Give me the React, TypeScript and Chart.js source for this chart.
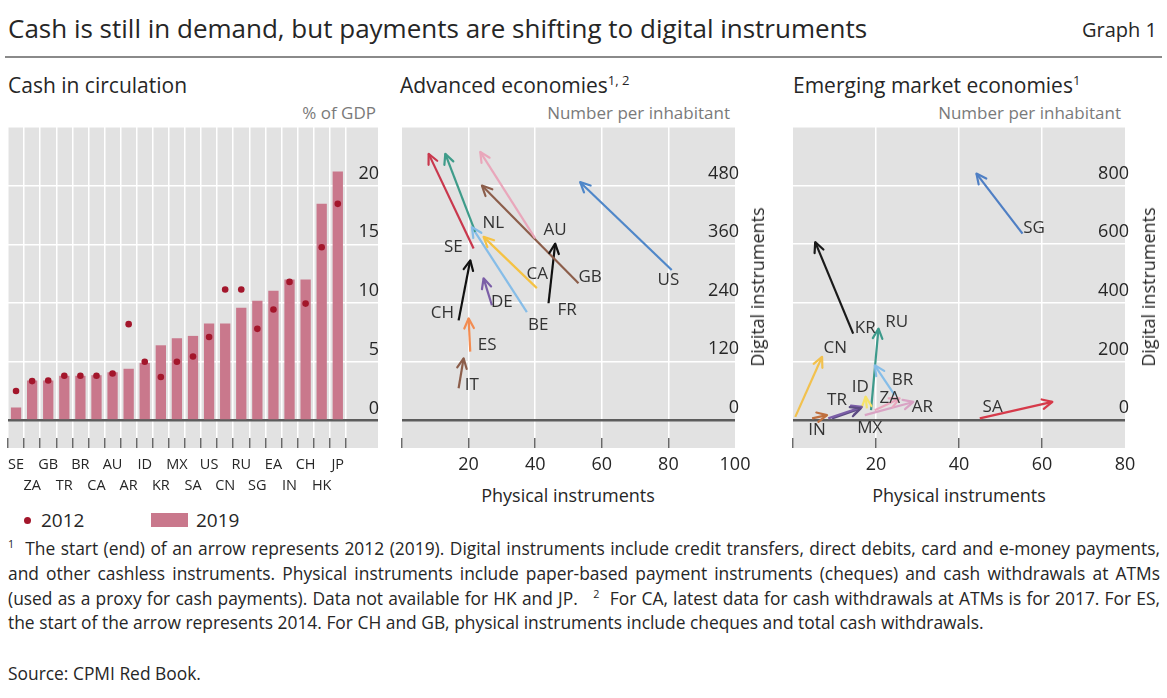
import React, { useEffect, useRef } from 'react';
import { Chart, registerables } from 'chart.js';

Chart.register(...registerables);

const FONT = '"Open Sans", "Noto Sans", sans-serif';
const GRAY_BG = '#e2e2e2';
const AXIS_DARK = '#5c5c5c';
const TEXT = '#262626';

// ---------- Panel 1: Cash in circulation (% of GDP)
const cashCountries = ['SE', 'ZA', 'GB', 'TR', 'BR', 'CA', 'AU', 'AR', 'ID', 'KR', 'MX', 'SA', 'US', 'CN', 'RU', 'SG', 'EA', 'IN', 'CH', 'HK', 'JP'];
const cashPadding = ['', ''];
const cash2019 = [1.1, 3.4, 3.4, 3.8, 3.8, 3.85, 4.1, 4.4, 4.9, 6.4, 7.0, 7.2, 8.25, 8.25, 9.6, 10.2, 11.05, 12.0, 12.0, 18.45, 21.2];
const cash2012 = [2.5, 3.35, 3.4, 3.8, 3.8, 3.8, 4.0, 8.2, 5.0, 3.7, 5.0, 5.45, 7.1, 11.15, 11.15, 7.8, 9.45, 11.8, 9.95, 14.75, 18.45];
const cashYTicks = [0, 5, 10, 15, 20, 25];
const cashYRange = [-1.5, 25];

// ---------- Panel 2: Advanced economies (number per inhabitant)
const aeCountries = ['SE', 'NL', 'AU', 'GB', 'US', 'CA', 'BE', 'DE', 'FR', 'CH', 'ES', 'IT'];
const aePhys2012 = [21.5, 22, 40, 53, 81, 40.5, 37.5, 27, 44, 17, 20.5, 17];
const aeDig2012 = [351, 385, 372, 280, 307, 270, 221, 235, 239, 204, 140, 65];
const aePhys2019 = [8, 13, 23.5, 24, 53.5, 24.5, 21, 24.5, 46, 20.5, 20, 18.5];
const aeDig2019 = [545, 545, 549, 480, 487, 375, 395, 290, 361, 327, 208, 126];
const aeLabelX = [15.4, 27.4, 46, 56.5, 80, 40.6, 40.9, 30, 49.6, 12.1, 25.6, 21];
const aeLabelY = [354, 403, 389, 292, 286, 299, 194, 241, 225, 218, 153, 72];
const aeColors = ['#c9384d', '#3f9c8a', '#e9a7bb', '#8c5e4b', '#4f87c9', '#f5c243', '#86bde8', '#7b5ea7', '#111111', '#111111', '#f28c52', '#8c5e4b'];
const aeXTicks = [0, 20, 40, 60, 80, 100];
const aeYTicks = [0, 120, 240, 360, 480, 600];
const aeYRange = [-37, 600];

// ---------- Panel 3: Emerging market economies (number per inhabitant)
const emCountries = ['SG', 'KR', 'RU', 'CN', 'BR', 'ID', 'ZA', 'AR', 'TR', 'IN', 'MX', 'SA'];
const emPhys2012 = [55.3, 14.5, 18.8, 0.55, 24.5, 17.8, 19.7, 17.3, 8.5, 4.6, 9.4, 45];
const emDig2012 = [636, 295, 34, 11, 85, 40, 34, 17, 6, 6, 6, 6];
const emPhys2019 = [44.2, 5.35, 20.6, 7, 19.7, 17.5, 25.7, 29, 16.6, 8.2, 16.3, 62.5];
const emDig2019 = [841, 607, 312, 216, 187, 80, 74, 62, 45, 17, 40, 62];
const emLabelX = [58.1, 17.4, 25.0, 10.2, 26.4, 16.2, 23.3, 31.2, 10.6, 5.8, 18.5, 48.1];
const emLabelY = [654, 313, 334, 245, 136, 112, 75, 44, 68, -34, -27, 44];
const emColors = ['#4f7fc4', '#1a1a1a', '#3d9a8b', '#f2c14e', '#86bde8', '#f7e36a', '#eaa7bd', '#d9a3c4', '#7b5ea7', '#c0703f', '#5b4b82', '#d63a4a'];
const emXTicks = [0, 20, 40, 60, 80];
const emYTicks = [0, 200, 400, 600, 800, 1000];
const emYRange = [-61, 1000];

const bgPlugin = {
  id: 'panelBackground',
  beforeDraw(chart: any) {
    const { ctx, chartArea: a } = chart;
    ctx.save();
    ctx.fillStyle = GRAY_BG;
    ctx.fillRect(a.left, a.top, a.right - a.left, a.bottom - a.top + 10);
    ctx.restore();
  },
};

function arrowPlugin(labels: string[], lx: number[], ly: number[]) {
  return {
    id: 'arrowHeads',
    afterDatasetsDraw(chart: any) {
      const { ctx } = chart;
      chart.data.datasets.forEach((ds: any, i: number) => {
        const meta = chart.getDatasetMeta(i);
        if (!meta || meta.data.length < 2) return;
        const p0 = meta.data[0];
        const p1 = meta.data[meta.data.length - 1];
        const ang = Math.atan2(p1.y - p0.y, p1.x - p0.x);
        const L = 11;
        const s = 0.45;
        ctx.save();
        ctx.strokeStyle = ds.borderColor;
        ctx.lineWidth = 2.2;
        ctx.lineCap = 'round';
        ctx.lineJoin = 'round';
        ctx.beginPath();
        ctx.moveTo(p1.x - L * Math.cos(ang - s), p1.y - L * Math.sin(ang - s));
        ctx.lineTo(p1.x, p1.y);
        ctx.lineTo(p1.x - L * Math.cos(ang + s), p1.y - L * Math.sin(ang + s));
        ctx.stroke();
        ctx.restore();
      });
      const xs = chart.scales.x;
      const ys = chart.scales.y;
      ctx.save();
      ctx.font = `17px ${FONT}`;
      ctx.fillStyle = '#333';
      ctx.textAlign = 'center';
      ctx.textBaseline = 'middle';
      labels.forEach((t, i) => {
        ctx.fillText(t, xs.getPixelForValue(lx[i]), ys.getPixelForValue(ly[i]));
      });
      ctx.restore();
    },
  };
}

const noPadX = (h: number) => (ax: any) => {
  ax.height = h;
  ax.paddingLeft = 0;
  ax.paddingRight = 0;
};
const noPadY = (ax: any) => {
  ax.width = 0;
  ax.paddingTop = 0;
  ax.paddingBottom = 0;
};

function makeCash(canvas: HTMLCanvasElement) {
  const labels = [...cashCountries, ...cashPadding];
  const nReal = cashCountries.length;
  return new Chart(canvas, {
    type: 'bar',
    data: {
      labels: labels.map((c, i) => (i % 2 === 0 ? [c, ''] : ['', c])),
      datasets: [
        {
          type: 'line',
          label: '2012',
          data: cash2012,
          showLine: false,
          pointRadius: 3.3,
          pointBackgroundColor: '#a3162b',
          pointBorderWidth: 0,
          order: 0,
        } as any,
        {
          type: 'bar',
          label: '2019',
          data: cash2019,
          backgroundColor: '#c9788c',
          barPercentage: 0.64,
          categoryPercentage: 1,
          order: 1,
        },
      ],
    },
    options: {
      animation: false,
      responsive: false,
      events: [],
      layout: { padding: { left: 8, right: 12, top: 7, bottom: 0 } },
      plugins: { legend: { display: false }, tooltip: { enabled: false } },
      scales: {
        x: {
          type: 'category',
          offset: true,
          afterFit: noPadX(62),
          grid: {
            offset: true,
            color: (c: any) => (c.index !== undefined && c.index <= nReal ? '#ffffff' : 'rgba(0,0,0,0)'),
            tickColor: (c: any) => (c.index !== undefined && c.index <= nReal ? AXIS_DARK : 'rgba(0,0,0,0)'),
            lineWidth: 1.5,
            tickLength: 10,
            tickWidth: 1.3,
          },
          border: { display: false },
          ticks: {
            autoSkip: false,
            maxRotation: 0,
            padding: 7,
            color: TEXT,
            font: { size: 14.5, lineHeight: 1.4 },
          },
        },
        y: {
          type: 'linear',
          position: 'right',
          min: cashYRange[0],
          max: cashYRange[1],
          afterBuildTicks: (ax: any) => {
            ax.ticks = cashYTicks.map((v) => ({ value: v }));
          },
          afterFit: noPadY,
          grid: {
            drawTicks: false,
            color: (c: any) => (c.tick && c.tick.value === 0 ? AXIS_DARK : '#ffffff'),
            lineWidth: (c: any) => (c.tick && c.tick.value === 0 ? 2.5 : 1.5),
          },
          border: { display: false },
          ticks: {
            mirror: true,
            padding: 1,
            labelOffset: -12,
            color: TEXT,
            font: { size: 18 },
            callback: (v: any) => (v === cashYRange[1] ? '' : String(v)),
          },
        },
      },
    },
    plugins: [bgPlugin],
  });
}

function makeArrows(
  canvas: HTMLCanvasElement,
  countries: string[],
  p12: number[],
  d12: number[],
  p19: number[],
  d19: number[],
  colors: string[],
  lx: number[],
  ly: number[],
  xTicks: number[],
  yTicks: number[],
  yRange: number[],
  padLeft: number,
) {
  const xMax = xTicks[xTicks.length - 1];
  return new Chart(canvas, {
    type: 'scatter',
    data: {
      datasets: countries.map((c, i) => ({
        label: c,
        data: [
          { x: p12[i], y: d12[i] },
          { x: p19[i], y: d19[i] },
        ],
        showLine: true,
        borderColor: colors[i],
        backgroundColor: colors[i],
        borderWidth: 2.2,
        pointRadius: 0,
        pointHoverRadius: 0,
      })),
    },
    options: {
      animation: false,
      responsive: false,
      events: [],
      layout: { padding: { left: padLeft, right: 15, top: 7, bottom: 0 } },
      plugins: { legend: { display: false }, tooltip: { enabled: false } },
      scales: {
        x: {
          type: 'linear',
          min: xTicks[0],
          max: xMax,
          afterBuildTicks: (ax: any) => {
            ax.ticks = xTicks.map((v) => ({ value: v }));
          },
          afterFit: noPadX(40),
          grid: {
            color: (c: any) => (c.tick && (c.tick.value === 0 || c.tick.value === xMax) ? 'rgba(0,0,0,0)' : '#ffffff'),
            tickColor: (c: any) => (c.tick && c.tick.value === xMax ? 'rgba(0,0,0,0)' : AXIS_DARK),
            lineWidth: 1.5,
            tickLength: 10,
            tickWidth: 1.3,
          },
          border: { display: false },
          ticks: {
            autoSkip: false,
            maxRotation: 0,
            padding: 6,
            color: TEXT,
            font: { size: 18 },
            callback: (v: any) => (v === 0 ? '' : String(v)),
          },
        },
        y: {
          type: 'linear',
          position: 'right',
          min: yRange[0],
          max: yRange[1],
          afterBuildTicks: (ax: any) => {
            ax.ticks = yTicks.map((v) => ({ value: v }));
          },
          afterFit: noPadY,
          grid: {
            drawTicks: false,
            color: (c: any) => (c.tick && c.tick.value === 0 ? AXIS_DARK : '#ffffff'),
            lineWidth: (c: any) => (c.tick && c.tick.value === 0 ? 2.5 : 1.5),
          },
          border: { display: false },
          ticks: {
            mirror: true,
            padding: 4,
            labelOffset: -12,
            color: TEXT,
            font: { size: 18 },
            callback: (v: any) => (v === yRange[1] ? '' : String(v)),
          },
        },
      },
    },
    plugins: [bgPlugin, arrowPlugin(countries, lx, ly)],
  });
}

const abs = (left: number, top: number, extra: React.CSSProperties = {}): React.CSSProperties => ({
  position: 'absolute',
  left,
  top,
  whiteSpace: 'nowrap',
  ...extra,
});

export default function App() {
  const c1 = useRef<HTMLCanvasElement>(null);
  const c2 = useRef<HTMLCanvasElement>(null);
  const c3 = useRef<HTMLCanvasElement>(null);

  useEffect(() => {
    Chart.defaults.font.family = FONT;
    const charts = [
      makeCash(c1.current!),
      makeArrows(c2.current!, aeCountries, aePhys2012, aeDig2012, aePhys2019, aeDig2019, aeColors, aeLabelX, aeLabelY, aeXTicks, aeYTicks, aeYRange, 12),
      makeArrows(c3.current!, emCountries, emPhys2012, emDig2012, emPhys2019, emDig2019, emColors, emLabelX, emLabelY, emXTicks, emYTicks, emYRange, 13),
    ];
    return () => charts.forEach((ch) => ch.destroy());
  }, []);

  const footLine: React.CSSProperties = {
    position: 'absolute',
    left: 8,
    fontSize: 17.4,
    lineHeight: '24px',
    whiteSpace: 'nowrap',
  };
  const justified: React.CSSProperties = {
    ...footLine,
    width: 1152,
    whiteSpace: 'normal',
    height: 24,
    overflow: 'hidden',
    textAlign: 'justify',
    textAlignLast: 'justify' as any,
  };
  const sup: React.CSSProperties = { fontSize: '0.62em', verticalAlign: 'super', lineHeight: 0 };
  const unit: React.CSSProperties = { fontSize: 17, lineHeight: '22px', width: 320, textAlign: 'right', color: '#7a7a7a' };

  return (
    <div
      style={{
        position: 'absolute',
        left: 0,
        top: 0,
        width: 1167,
        height: 698,
        background: '#ffffff',
        fontFamily: FONT,
        color: TEXT,
        overflow: 'hidden',
      }}
    >
      <div style={abs(8, 12, { fontSize: 26, lineHeight: '32px' })}>
        Cash is still in demand, but payments are shifting to digital instruments
      </div>
      <div style={abs(1037, 16, { fontSize: 20, lineHeight: '28px', width: 120, textAlign: 'right' })}>Graph 1</div>
      <div style={{ position: 'absolute', left: 5, top: 56, width: 1157, height: 2, background: '#8a8a8a' }} />

      <div style={abs(8, 70, { fontSize: 21, lineHeight: '30px' })}>Cash in circulation</div>
      <div style={abs(400, 70, { fontSize: 21, lineHeight: '30px' })}>
        Advanced economies<span style={sup}>1, 2</span>
      </div>
      <div style={abs(793, 70, { fontSize: 21, lineHeight: '30px' })}>
        Emerging market economies<span style={sup}>1</span>
      </div>

      <div style={abs(56, 102, unit)}>% of GDP</div>
      <div style={abs(410, 102, unit)}>Number per inhabitant</div>
      <div style={abs(801, 102, unit)}>Number per inhabitant</div>

      <canvas ref={c1} width={390} height={380} style={{ position: 'absolute', left: 0, top: 120 }} />
      <canvas ref={c2} width={360} height={358} style={{ position: 'absolute', left: 390, top: 120 }} />
      <canvas ref={c3} width={360} height={358} style={{ position: 'absolute', left: 780, top: 120 }} />

      <div
        style={abs(757, 287, {
          fontSize: 18,
          lineHeight: '22px',
          transform: 'translate(-50%, -50%) rotate(-90deg)',
        })}
      >
        Digital instruments
      </div>
      <div
        style={abs(1148, 287, {
          fontSize: 18,
          lineHeight: '22px',
          transform: 'translate(-50%, -50%) rotate(-90deg)',
        })}
      >
        Digital instruments
      </div>
      <div style={abs(568, 495, { fontSize: 18, lineHeight: '22px', transform: 'translate(-50%, -50%)' })}>
        Physical instruments
      </div>
      <div style={abs(959, 495, { fontSize: 18, lineHeight: '22px', transform: 'translate(-50%, -50%)' })}>
        Physical instruments
      </div>

      <div
        style={{ position: 'absolute', left: 24, top: 517, width: 7, height: 7, borderRadius: '50%', background: '#a3162b' }}
      />
      <div style={abs(41, 507, { fontSize: 19, lineHeight: '26px' })}>2012</div>
      <div style={{ position: 'absolute', left: 151, top: 513, width: 37, height: 14, background: '#c9788c' }} />
      <div style={abs(196, 507, { fontSize: 19, lineHeight: '26px' })}>2019</div>

      <div style={{ ...justified, top: 536 }}>
        <span style={sup}>1</span>&nbsp; The start (end) of an arrow represents 2012 (2019). Digital instruments include credit transfers, direct
        debits, card and e-money payments,
      </div>
      <div style={{ ...justified, top: 561 }}>
        and other cashless instruments. Physical instruments include paper-based payment instruments (cheques) and cash withdrawals at
        ATMs
      </div>
      <div style={{ ...justified, top: 586 }}>
        (used as a proxy for cash payments). Data not available for HK and JP. &nbsp;&nbsp;<span style={sup}>2</span>&nbsp; For CA,
        latest data for cash withdrawals at ATMs is for 2017. For ES,
      </div>
      <div style={{ ...footLine, top: 610 }}>
        the start of the arrow represents 2014. For CH and GB, physical instruments include cheques and total cash withdrawals.
      </div>
      <div style={{ ...footLine, top: 661 }}>Source: CPMI Red Book.</div>
    </div>
  );
}
